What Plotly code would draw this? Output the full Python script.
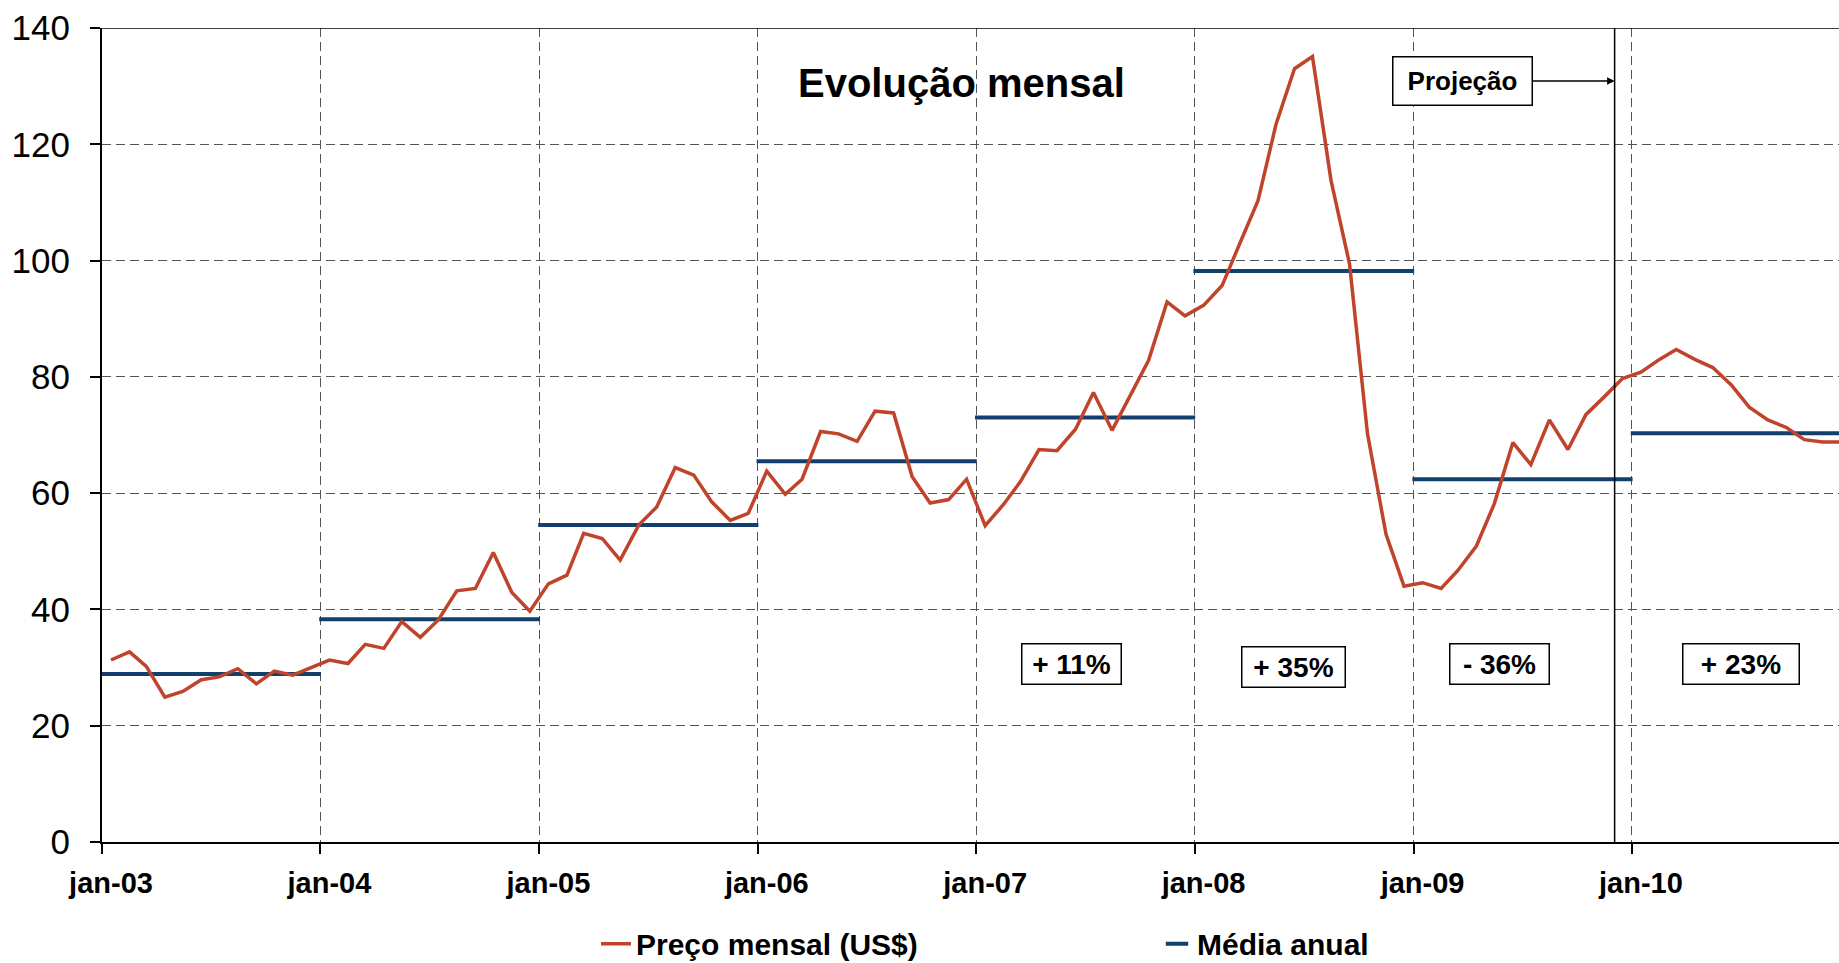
import plotly.graph_objects as go

# ---------------- data ----------------
years = [2003, 2004, 2005, 2006, 2007, 2008, 2009, 2010]
year_labels = ["jan-03", "jan-04", "jan-05", "jan-06", "jan-07", "jan-08", "jan-09", "jan-10"]

price_2003 = [31.3, 32.7, 30.2, 24.9, 25.9, 27.9, 28.4, 29.8, 27.2, 29.4, 28.7, 29.9]
price_2004 = [31.3, 30.7, 34.0, 33.3, 37.9, 35.2, 38.2, 43.2, 43.6, 49.8, 42.9, 39.7]
price_2005 = [44.4, 45.9, 53.1, 52.2, 48.5, 54.5, 57.6, 64.4, 63.1, 58.5, 55.3, 56.5]
price_2006 = [63.8, 59.8, 62.4, 70.6, 70.2, 68.9, 74.1, 73.8, 62.8, 58.3, 58.9, 62.4]
price_2007 = [54.4, 58.1, 62.0, 67.5, 67.3, 71.0, 77.3, 70.8, 76.8, 82.8, 92.9, 90.5]
price_2008 = [92.3, 95.7, 102.8, 110.3, 123.4, 133.0, 135.1, 113.8, 99.4, 70.2, 52.9, 44.0]
price_2009 = [44.6, 43.6, 46.7, 50.9, 58.2, 68.7, 64.9, 72.6, 67.5, 73.5, 76.6, 79.7]
price_2010 = [80.8, 83.0, 84.7, 83.0, 81.6, 78.6, 74.8, 72.6, 71.3, 69.2, 68.8, 68.8]

annual_avg = [28.9, 38.3, 54.5, 65.5, 73.0, 98.2, 62.4, 70.3]

change_labels = ["+ 11%", "+ 35%", "- 36%", "+ 23%"]
change_dates = ["2007-06-09", "2008-06-15", "2009-05-25", "2010-07-03"]
change_y = [30.6, 30.1, 30.6, 30.6]
change_widths = [88, 92, 88, 105]

projection_date = "2009-12-03"

series_name = "Preço mensal (US$)"
avg_name = "Média anual"
title_text = "Evolução mensal"
projection_text = "Projeção"

# ---------------- build ----------------
monthly = [price_2003, price_2004, price_2005, price_2006,
           price_2007, price_2008, price_2009, price_2010]
dates, prices = [], []
for y, vals in zip(years, monthly):
    for m, v in enumerate(vals, start=1):
        dates.append(f"{y}-{m:02d}-16")
        prices.append(v)

avg_x, avg_y = [], []
for y, a in zip(years, annual_avg):
    avg_x += [f"{y - 1}-12-30", f"{y + 1}-01-02", None]
    avg_y += [a, a, None]

RED = "#C0432B"
BLUE = "#123F6B"
FONT = "Liberation Sans, Arial, Helvetica, sans-serif"

fig = go.Figure()
fig.add_trace(go.Scatter(x=avg_x, y=avg_y, mode="lines", line=dict(color=BLUE, width=4),
                         showlegend=False, hoverinfo="skip"))
fig.add_trace(go.Scatter(x=dates, y=prices, mode="lines", name=series_name,
                         line=dict(color=RED, width=3.5), legend="legend"))
# legend entry for the annual mean (short dash)
fig.add_trace(go.Scatter(x=[None], y=[None], mode="markers", name=avg_name,
                         marker=dict(symbol="line-ew-open", size=17, color=BLUE,
                                     line=dict(color=BLUE, width=4)),
                         legend="legend2"))

W, H = 1839, 963
ML, MR, MT, MB = 102, 0, 28, 121

grid = dict(showgrid=True, gridcolor="#555555", gridwidth=1, griddash="9px,5px")

fig.update_layout(
    width=W, height=H,
    margin=dict(l=ML, r=MR, t=MT, b=MB, autoexpand=False),
    paper_bgcolor="white", plot_bgcolor="white",
    font=dict(family=FONT, color="black"),
    xaxis=dict(
        type="date", range=["2003-01-01", "2010-12-13"],
        tickmode="array", tickvals=[f"{y}-01-01" for y in years], ticktext=year_labels,
        ticks="outside", ticklen=10, tickwidth=1.5, tickcolor="black",
        tickfont=dict(size=29, weight="bold", family=FONT),
        ticklabelshift=9, ticklabelstandoff=4,
        showline=True, linecolor="black", linewidth=2,
        zeroline=False, **grid,
    ),
    yaxis=dict(
        range=[0, 140], tickmode="linear", tick0=0, dtick=20,
        ticks="outside", ticklen=10, tickwidth=1.5, tickcolor="black",
        tickfont=dict(size=35, family=FONT),
        ticklabelstandoff=13,
        showline=True, linecolor="black", linewidth=2,
        zeroline=False, **grid,
    ),
    legend=dict(orientation="h", x=(596 - ML) / (W - ML - MR), xanchor="left",
                y=-0.125, yanchor="middle", font=dict(size=30, weight="bold", family=FONT),
                bgcolor="rgba(0,0,0,0)"),
    legend2=dict(orientation="h", x=(1157 - ML) / (W - ML - MR), xanchor="left",
                 y=-0.125, yanchor="middle", font=dict(size=30, weight="bold", family=FONT),
                 bgcolor="rgba(0,0,0,0)"),
)

# top border
fig.add_shape(type="line", xref="paper", yref="y", x0=0, x1=1, y0=140, y1=140,
              line=dict(color="black", width=1.5), layer="above")
# projection vertical line
fig.add_shape(type="line", xref="x", yref="y", x0=projection_date, x1=projection_date,
              y0=0, y1=140, line=dict(color="black", width=1.5), layer="above")

# title inside the plot
fig.add_annotation(x="2006-12-08", y=130.5, xref="x", yref="y", text=title_text,
                   showarrow=False, font=dict(size=40, weight="bold", family=FONT))

# projection label with arrow
fig.add_annotation(x=projection_date, y=130.9, xref="x", yref="y", text=projection_text,
                   showarrow=True, ax=-152, ay=0, axref="pixel", ayref="pixel",
                   arrowhead=2, arrowsize=1, arrowwidth=1.5, arrowcolor="black",
                   font=dict(size=26, weight="bold", family=FONT),
                   bordercolor="black", borderwidth=1.5, borderpad=6,
                   bgcolor="white", width=126, height=35)

# percentage change boxes
for lab, d, yv, w in zip(change_labels, change_dates, change_y, change_widths):
    fig.add_annotation(x=d, y=yv, xref="x", yref="y", text=lab, showarrow=False,
                       font=dict(size=28, weight="bold", family=FONT),
                       bordercolor="black", borderwidth=1.5, borderpad=5,
                       bgcolor="white", width=w, height=29)

fig.write_html("out.html", config={"displayModeBar": False},
               post_script="document.body.style.margin='0';")
